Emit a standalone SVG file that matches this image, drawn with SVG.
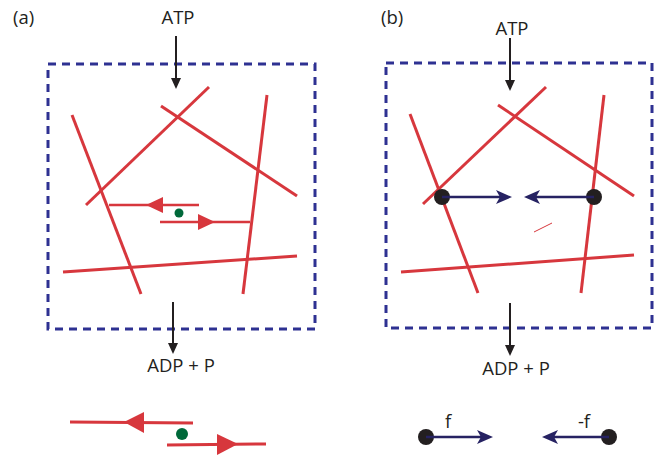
<svg xmlns="http://www.w3.org/2000/svg" width="670" height="455" viewBox="0 0 670 455">
<style>
.lbl{font-family:"Open Sans","Liberation Sans",sans-serif;font-size:18.5px;fill:#231f20}
.box{fill:none;stroke:#2e3192;stroke-width:3;stroke-dasharray:8 6}
.fil{stroke:#d7373d;stroke-width:3;fill:none}
.fil2{stroke:#d7373d;stroke-width:2.5;fill:none}
.red{fill:#d7373d}
.blk{stroke:#231f20;stroke-width:2;fill:none}
.blkh{fill:#231f20}
.nav{stroke:#262262;stroke-width:2.5;fill:none}
.navh{fill:#262262}
.dot{fill:#231f20}
.grn{fill:#00693a}
</style>
<rect width="670" height="455" fill="#fff"/>
<g id="panel-a">
 <text class="lbl" x="13" y="24">(a)</text>
 <g id="a-atp"><text class="lbl" x="178" y="24" text-anchor="middle">ATP</text></g>
 <rect class="box" x="48" y="64" width="267" height="265"/>
 <g id="a-filaments">
  <line class="fil" x1="72" y1="115" x2="141" y2="294"/>
  <line class="fil" x1="86" y1="205" x2="209" y2="87"/>
  <line class="fil" x1="161" y1="106" x2="297" y2="196"/>
  <line class="fil" x1="267" y1="95" x2="243" y2="294"/>
  <line class="fil" x1="63" y1="272" x2="297" y2="256"/>
 </g>
 <g id="a-motor">
  <line class="fil2" x1="109" y1="205" x2="199" y2="205"/>
  <polygon class="red" points="146,205 163,197 163,213"/>
  <line class="fil2" x1="160" y1="222" x2="250" y2="222"/>
  <polygon class="red" points="215,222 198,214 198,230"/>
  <circle class="grn" cx="179" cy="213" r="4.5"/>
 </g>
 <g id="a-adp"><text class="lbl" x="181" y="372" text-anchor="middle">ADP + P</text></g>
 <g id="a-legend">
  <line class="fil" x1="70" y1="422" x2="193" y2="423"/>
  <polygon class="red" points="124,422 144,412 144,433"/>
  <circle class="grn" cx="182" cy="434" r="6"/>
  <line class="fil" x1="167" y1="445" x2="266" y2="444"/>
  <polygon class="red" points="238,444 217,434 217,455"/>
 </g>
</g>
<g id="panel-b">
 <text class="lbl" x="381" y="24">(b)</text>
 <g id="b-atp"><text class="lbl" x="512" y="35" text-anchor="middle">ATP</text></g>
 <rect class="box" x="386" y="63" width="266" height="265"/>
 <g id="b-filaments">
  <line class="fil" x1="410" y1="114" x2="478" y2="293"/>
  <line class="fil" x1="423" y1="204" x2="546" y2="87"/>
  <line class="fil" x1="498" y1="105" x2="634" y2="196"/>
  <line class="fil" x1="604" y1="95" x2="581" y2="293"/>
  <line class="fil" x1="401" y1="272" x2="634" y2="255"/>
  <line stroke="#d7373d" stroke-width="1" x1="534" y1="232" x2="552" y2="223"/>
 </g>
 <g id="b-motors">
  <circle class="dot" cx="442" cy="197" r="8"/>
  <circle class="dot" cx="594" cy="197" r="8"/>
 </g>
 <g id="b-adp"><text class="lbl" x="516" y="375" text-anchor="middle">ADP + P</text></g>
 <g id="b-legend">
  <circle class="dot" cx="426" cy="437" r="8"/>
  <circle class="dot" cx="609" cy="437" r="8"/>
  <text class="lbl" x="448" y="428" text-anchor="middle">f</text>
  <text class="lbl" x="584" y="428" text-anchor="middle">-f</text>
 </g>
</g>
<g id="connectors">
 <line class="blk" x1="176" y1="36" x2="176" y2="80"/>
 <polygon class="blkh" points="176,89 171,78 181,78"/>
 <line class="blk" x1="173" y1="302" x2="173" y2="345"/>
 <polygon class="blkh" points="173,354 168,343 178,343"/>
 <line class="blk" x1="510" y1="38" x2="510" y2="82"/>
 <polygon class="blkh" points="510,91 505,80 515,80"/>
 <line class="blk" x1="510" y1="303" x2="510" y2="347"/>
 <polygon class="blkh" points="510,356 505,345 515,345"/>
 <line class="nav" x1="442" y1="197" x2="505" y2="197"/>
 <polygon class="navh" points="512,197 496,190 500,197 496,204"/>
 <line class="nav" x1="594" y1="197" x2="531" y2="197"/>
 <polygon class="navh" points="524,197 540,190 536,197 540,204"/>
 <line class="nav" x1="426" y1="437" x2="486" y2="437"/>
 <polygon class="navh" points="493,437 477,430 481,437 477,444"/>
 <line class="nav" x1="609" y1="437" x2="549" y2="437"/>
 <polygon class="navh" points="542,437 558,430 554,437 558,444"/>
</g>
</svg>
